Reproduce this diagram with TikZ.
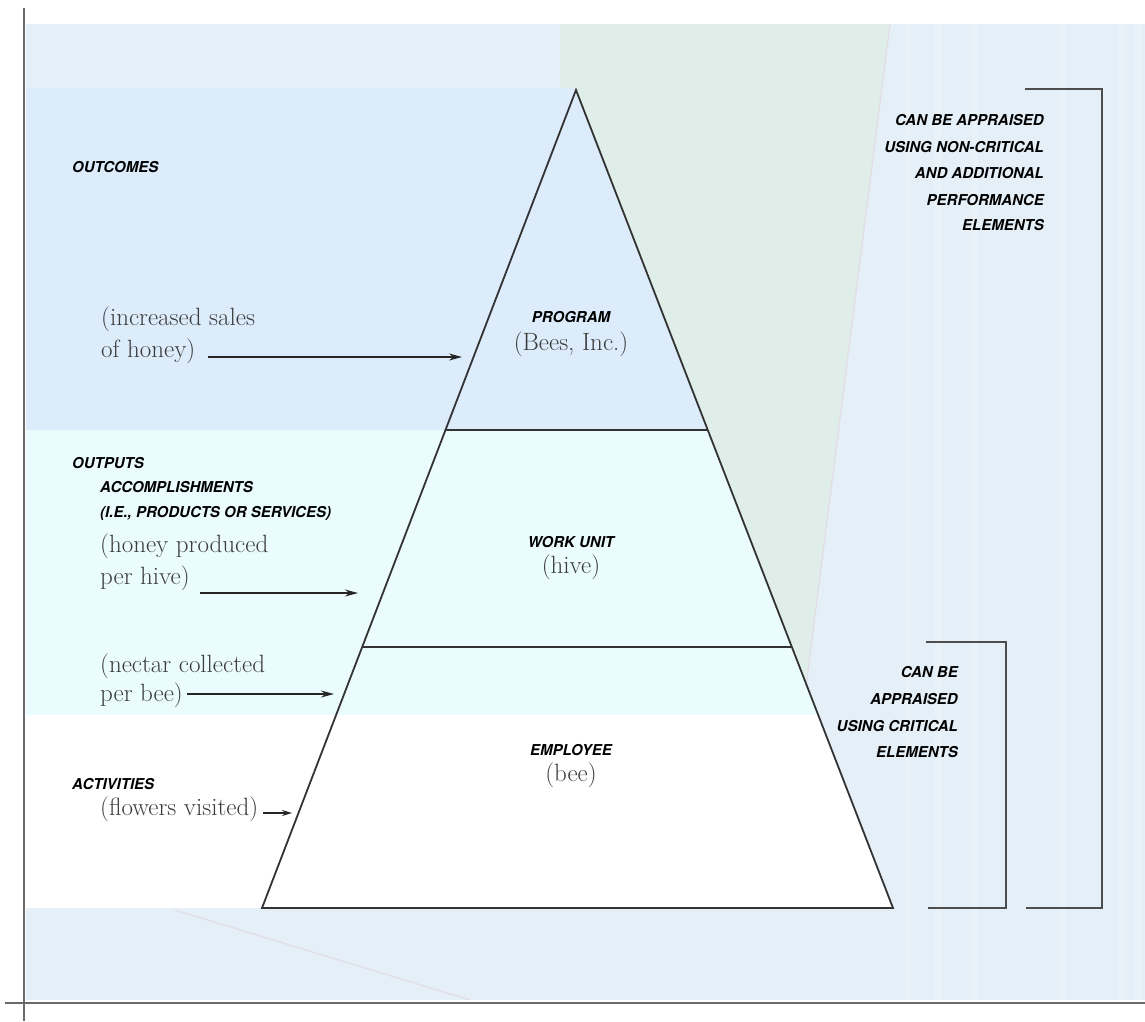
\documentclass[tikz,border=0pt]{standalone}
\usepackage{fontspec}
\setsansfont{TeX Gyre Heros}
\usetikzlibrary{arrows.meta,calc}
\definecolor{bgfade}{HTML}{E4EFF8}
\definecolor{bggreen}{HTML}{E0EEEA}
\definecolor{bandtop}{HTML}{DCECFB}
\definecolor{bandmid}{HTML}{EBFCFE}
\definecolor{sergray}{HTML}{3C3C3C}
\definecolor{linegray}{HTML}{4D4D4D}
\definecolor{axisgray}{HTML}{6A6A6A}
\definecolor{faintline}{HTML}{E2DCE4}
\begin{document}
\begin{tikzpicture}[x=1pt,y=-1pt,
  lab/.style={font=\fontsize{15}{17}\selectfont\sffamily\bfseries\itshape, inner sep=0pt},
  ser/.style={font=\fontsize{25}{30}\selectfont, text=sergray, inner sep=0pt},
  arr/.style={-{Stealth[length=13pt,width=7pt]}, line width=1.3pt, black!85},
  tri/.style={line width=1.8pt, black!80, line join=miter},
  brk/.style={line width=1.6pt, linegray},
  axis/.style={line width=1.6pt, axisgray}]
\useasboundingbox (0,0) rectangle (1145,1021);
\fill[white] (0,0) rectangle (1145,1021);
% faded background
\fill[bgfade] (26,24) rectangle (1145,1000);
\fill[bggreen] (560,24) -- (890,24) -- (802,718) -- (560,718) -- cycle;
\foreach \xx in {905,935,972,1060,1118,1135}{
  \fill[white,opacity=0.22] (\xx,24) rectangle (\xx+6,1000);
}
\draw[faintline, line width=1.2pt] (890,24) -- (802,718);
\draw[faintline, line width=1.2pt] (175,910) -- (470,1000);
% triangle corners
\coordinate (apex) at (576,90);
\coordinate (bl) at (262,908);
\coordinate (br) at (893,908);
\coordinate (l1) at ($(apex)!0.41565!(bl)$);
\coordinate (r1) at ($(apex)!0.41565!(br)$);
\coordinate (l2) at ($(apex)!0.68093!(bl)$);
\coordinate (r2) at ($(apex)!0.68093!(br)$);
\coordinate (r3) at ($(apex)!0.76406!(br)$);
% bands
\fill[bandtop] (26,88) -- (576,88) -- (apex) -- (r1) -- (26,430) -- cycle;
\fill[bandmid] (26,430) -- (r1) -- (r3) -- (26,715) -- cycle;
\fill[white] (26,715) -- (r3) -- (br) -- (26,908) -- cycle;
% axes
\draw[axis] (24,8) -- (24,1021);
\draw[axis] (5,1003) -- (1145,1003);
% triangle
\draw[tri] (apex) -- (bl) -- (br) -- cycle;
\draw[tri] (l1) -- (r1);
\draw[tri] (l2) -- (r2);
% center labels
\node[lab, anchor=base] (prog) at (571,322) {PROGRAM};
\node[ser, anchor=base] (progs) at (571,350) {(Bees, Inc.)};
\node[lab, anchor=base] (work) at (571,547) {WORK UNIT};
\node[ser, anchor=base] (works) at (571,573) {(hive)};
\node[lab, anchor=base] (emp) at (571,755) {EMPLOYEE};
\node[ser, anchor=base] (emps) at (571,781) {(bee)};
% left labels
\node[lab, anchor=base west] (outc) at (72,172) {OUTCOMES};
\node[ser, anchor=base west] (inc1) at (101,325) {(increased sales};
\node[ser, anchor=base west] (inc2) at (101,357) {of honey)};
\node[lab, anchor=base west] (outp) at (72,468) {OUTPUTS};
\node[lab, anchor=base west] (acc) at (100,492) {ACCOMPLISHMENTS};
\node[lab, anchor=base west] (ie) at (100,517) {(I.E., PRODUCTS OR SERVICES)};
\node[ser, anchor=base west] (hon1) at (100,552) {(honey produced};
\node[ser, anchor=base west] (hon2) at (100,584) {per hive)};
\node[ser, anchor=base west] (nec1) at (100,672) {(nectar collected};
\node[ser, anchor=base west] (nec2) at (100,701) {per bee)};
\node[lab, anchor=base west] (act) at (72,789) {ACTIVITIES};
\node[ser, anchor=base west] (flw) at (100,815) {(flowers visited)};
% arrows
\coordinate (a1s) at (208,357); \coordinate (a1e) at (462,357);
\coordinate (a2s) at (200,593); \coordinate (a2e) at (358,593);
\coordinate (a3s) at (187,694); \coordinate (a3e) at (334,694);
\coordinate (a4s) at (263,813); \coordinate (a4e) at (292,813);
\draw[arr] (a1s) -- (a1e);
\draw[arr] (a2s) -- (a2e);
\draw[arr] (a3s) -- (a3e);
\draw[arr, -{Stealth[length=10pt,width=6pt]}] (a4s) -- (a4e);
% right labels
\node[lab, anchor=base east] (rt1) at (1044,125) {CAN BE APPRAISED};
\node[lab, anchor=base east] (rt2) at (1044,152) {USING NON-CRITICAL};
\node[lab, anchor=base east] (rt3) at (1044,178) {AND ADDITIONAL};
\node[lab, anchor=base east] (rt4) at (1044,205) {PERFORMANCE};
\node[lab, anchor=base east] (rt5) at (1044,230) {ELEMENTS};
\node[lab, anchor=base east] (rb1) at (958,677) {CAN BE};
\node[lab, anchor=base east] (rb2) at (958,704) {APPRAISED};
\node[lab, anchor=base east] (rb3) at (958,731) {USING CRITICAL};
\node[lab, anchor=base east] (rb4) at (958,757) {ELEMENTS};
% brackets
\coordinate (b1a) at (1025,89); \coordinate (b1b) at (1102,89);
\coordinate (b1c) at (1102,908); \coordinate (b1d) at (1026,908);
\draw[brk] (b1a) -- (b1b) -- (b1c) -- (b1d);
\coordinate (b2a) at (926,642); \coordinate (b2b) at (1006,642);
\coordinate (b2c) at (1006,908); \coordinate (b2d) at (928,908);
\draw[brk] (b2a) -- (b2b) -- (b2c) -- (b2d);
\end{tikzpicture}
\end{document}
